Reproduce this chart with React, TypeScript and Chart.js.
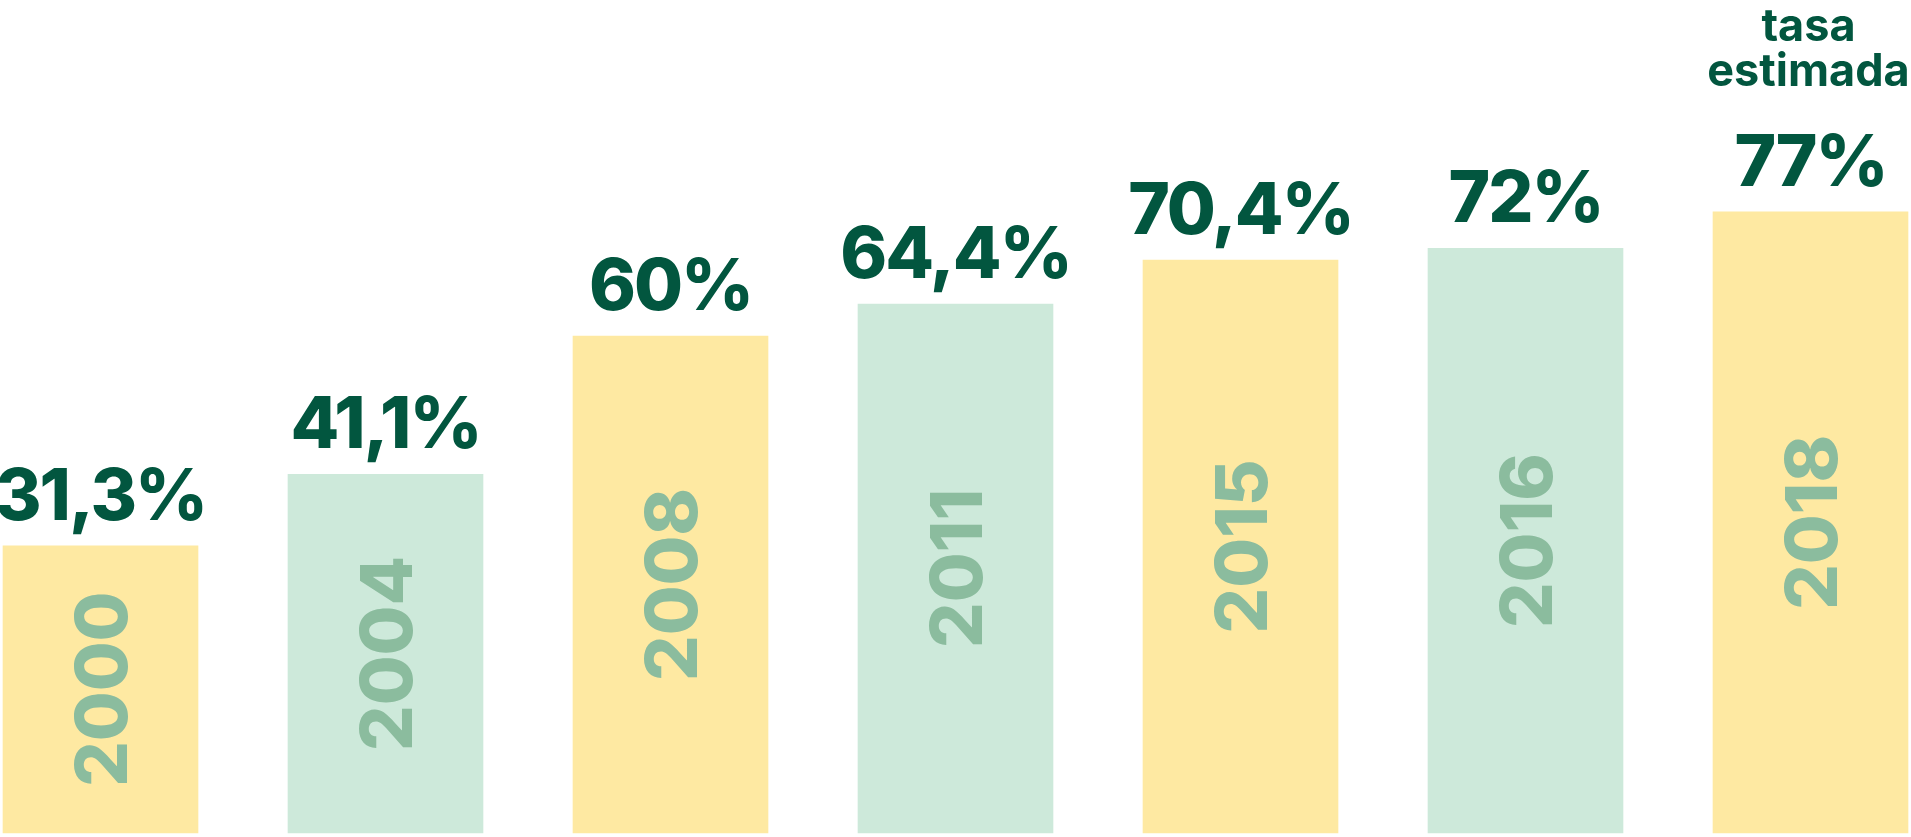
import React, { useEffect, useRef } from "react";
import { Chart, registerables } from "chart.js";

Chart.register(...registerables);

// Series: share per year (percent)
const years = ["2000", "2004", "2008", "2011", "2015", "2016", "2018"];
const rates = [31.3, 41.1, 60, 64.4, 70.4, 72, 77];
const barColors = ["#FEE9A2", "#CDE9DA", "#FEE9A2", "#CDE9DA", "#FEE9A2", "#CDE9DA", "#FEE9A2"];
const estimateNote = ["tasa", "estimada"]; // drawn above the last bar's value

const Y_MIN = -8;
const Y_MAX = 106;

const DARK_GREEN = "#02563F";
const YEAR_GREEN = "#8BBC9E";
const FONT_FAMILY = "Inter, 'Open Sans', sans-serif";

const formatRate = (v: number) => String(v).replace(".", ",") + "%";

const barLabels = {
  id: "barLabels",
  afterDatasetsDraw(chart: any) {
    const ctx = chart.ctx as CanvasRenderingContext2D & { letterSpacing?: string };
    const meta = chart.getDatasetMeta(0);
    ctx.save();
    meta.data.forEach((bar: any, i: number) => {
      const { x, y, base } = bar.getProps(["x", "y", "base"], true);

      // value above the bar
      ctx.font = `800 71px ${FONT_FAMILY}`;
      ctx.letterSpacing = "-2px";
      ctx.fillStyle = DARK_GREEN;
      ctx.textAlign = "center";
      ctx.textBaseline = "alphabetic";
      const valueBaseline = y - 26;
      ctx.fillText(formatRate(rates[i]), x, valueBaseline);

      // note above the estimated value
      if (i === rates.length - 1) {
        ctx.font = `700 45px ${FONT_FAMILY}`;
        ctx.letterSpacing = "0px";
        ctx.fillText(estimateNote[1], x - 2, valueBaseline - 100);
        ctx.fillText(estimateNote[0], x - 2, valueBaseline - 145);
      }

      // year written upward inside the bar
      ctx.font = `800 72px ${FONT_FAMILY}`;
      ctx.letterSpacing = "0px";
      ctx.fillStyle = YEAR_GREEN;
      const capH = ctx.measureText("0").actualBoundingBoxAscent;
      ctx.save();
      ctx.translate(x, (y + base) / 2);
      ctx.rotate(-Math.PI / 2);
      ctx.textAlign = "center";
      ctx.textBaseline = "alphabetic";
      ctx.fillText(years[i], 0, capH / 2);
      ctx.restore();
    });
    ctx.restore();
  },
};

export default function App() {
  const canvasRef = useRef<HTMLCanvasElement | null>(null);

  useEffect(() => {
    if (!canvasRef.current) return;
    const chart = new Chart(canvasRef.current, {
      type: "bar",
      data: {
        labels: years,
        datasets: [
          {
            data: rates,
            backgroundColor: barColors,
            borderWidth: 0,
            barThickness: 195,
            base: Y_MIN,
            clip: false as any,
          },
        ],
      },
      options: {
        animation: false,
        responsive: true,
        maintainAspectRatio: false,
        layout: { padding: { left: 100.5, right: 100.5, top: 0, bottom: 4 } },
        plugins: {
          legend: { display: false },
          tooltip: { enabled: false },
          title: { display: false },
        },
        scales: {
          x: { type: "category", offset: false, display: false, grid: { display: false } },
          y: { min: Y_MIN, max: Y_MAX, display: false, grid: { display: false } },
        },
      },
      plugins: [barLabels],
    });
    return () => chart.destroy();
  }, []);

  return (
    <div
      style={{
        position: "absolute",
        left: 0,
        top: 0,
        width: 1911,
        height: 837,
        background: "#ffffff",
      }}
    >
      <canvas ref={canvasRef} />
    </div>
  );
}
